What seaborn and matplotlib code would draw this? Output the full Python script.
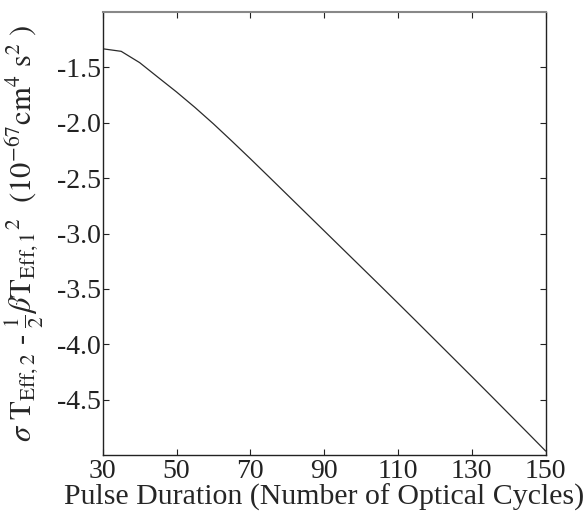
import numpy as np
import pandas as pd
import matplotlib
matplotlib.use('Agg')
import matplotlib.pyplot as plt
import seaborn as sns

# pulse duration (optical cycles) and value in 1e-67 cm^4 s^2
cycles = [30, 35, 40, 45, 50, 55, 60, 65, 70, 75, 80, 85, 90,
          95, 100, 105, 110, 115, 120, 125, 130, 135, 140, 145, 150]
value = [-1.332, -1.355, -1.457, -1.590, -1.722, -1.862, -2.010, -2.166,
         -2.325, -2.487, -2.650, -2.813, -2.976, -3.139, -3.302, -3.465,
         -3.629, -3.794, -3.960, -4.126, -4.292, -4.459, -4.627, -4.795,
         -4.964]
xticks = [30, 50, 70, 90, 110, 130, 150]
yticks = [-1.5, -2.0, -2.5, -3.0, -3.5, -4.0, -4.5]

sns.set_style('ticks')
plt.rcParams['font.family'] = ['Liberation Serif', 'DejaVu Serif']
plt.rcParams['mathtext.fontset'] = 'stix'
plt.rcParams['axes.unicode_minus'] = False

df = pd.DataFrame({'cycles': cycles, 'value': value})

fig = plt.figure(figsize=(5.88, 5.13), dpi=100)
ax = fig.add_axes([0.1747, 0.113, 0.7533, 0.8636])
sns.lineplot(x='cycles', y='value', data=df, color='#2a2a2a', linewidth=0.9, ax=ax)

ax.set_xlim(30, 150)
ax.set_ylim(-5.0, -1.0)
ax.set_xticks(xticks)
ax.set_yticks(yticks)
ax.set_yticklabels(['%.1f' % v for v in yticks])
ax.tick_params(direction='in', length=4, width=0.8, labelsize=20,
               top=True, right=True, pad=3, colors='#222222')
ax.tick_params(axis='y', pad=1.5)
for s in ax.spines.values():
    s.set_linewidth(1.0)
    s.set_color('#222222')
ax.spines['top'].set_color('#888888')
ax.spines['top'].set_linewidth(1.5)

ax.set_xlabel('Pulse Duration (Number of Optical Cycles)', fontsize=21.5, labelpad=0)
ax.set_ylabel(r'$\sigma\ \mathrm{T}_{\mathrm{Eff},2}$ - $\frac{1}{2}\beta\mathrm{T}_{\mathrm{Eff},1}{}^{2}$'
              r'  $(10^{-67}\mathrm{cm}^{4}\ \mathrm{s}^{2}\ )$', fontsize=22, labelpad=8)

fig.savefig('out.png', dpi=100)
